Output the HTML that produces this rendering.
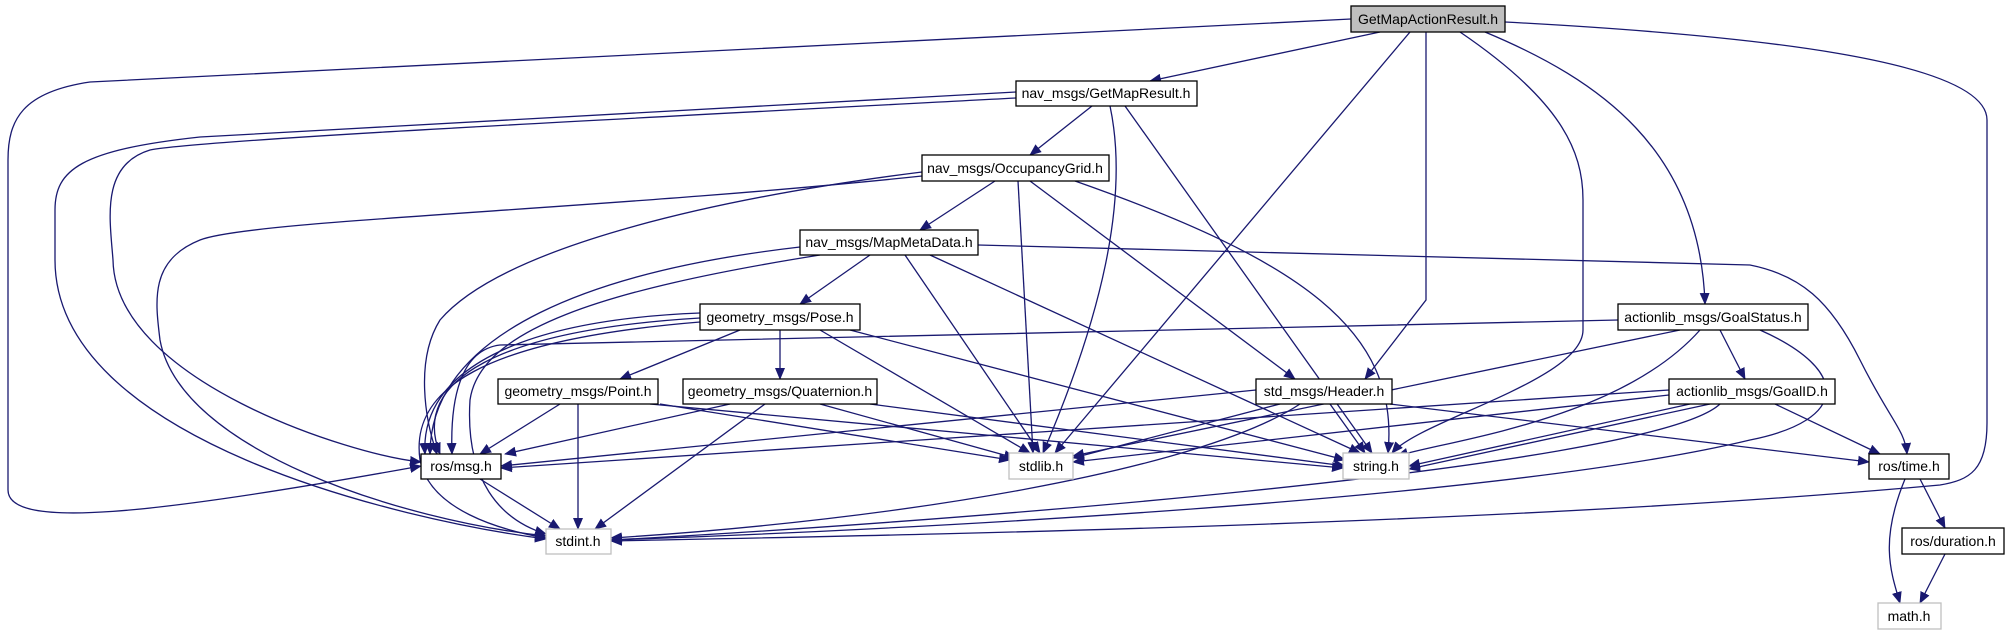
<!DOCTYPE html>
<html><head><meta charset="utf-8"><style>
html,body{margin:0;padding:0;background:#fff;}
svg{display:block;}
text{font-family:"Liberation Sans",Arial,sans-serif;font-size:14px;fill:#000;}
</style></head><body>
<svg width="2009" height="635" viewBox="0 0 2009 635" xmlns="http://www.w3.org/2000/svg">
<defs>
<marker id="a" markerWidth="12" markerHeight="10" refX="11" refY="5" orient="auto" markerUnits="userSpaceOnUse">
<path d="M0,0 L12,5 L0,10 z" fill="#191970"/>
</marker>
</defs>
<g fill="none" stroke="#191970" stroke-width="1.3" marker-end="url(#a)">
<!-- GetMapActionResult -->
<path d="M1351,19 L90,82 C22,92 8,120 8,160 L8,490 C8,530 150,515 421,466"/>
<path d="M1380,32 L1150,81"/>
<path d="M1410,32 L1055,453"/>
<path d="M1426,32 L1426,300 L1365,379"/>
<path d="M1460,32 C1560,100 1583,150 1583,200 L1583,330 C1583,380 1420,420 1392,453"/>
<path d="M1485,32 C1600,80 1700,150 1705,304"/>
<path d="M1505,22 C1750,35 1987,60 1987,120 L1987,423 C1987,470 1970,480 1940,485 C1500,525 900,535 611,541"/>
<!-- GetMapResult -->
<path d="M1092,106 L1030,155"/>
<path d="M1110,106 C1130,200 1100,320 1043,453"/>
<path d="M1125,106 L1372,453"/>
<path d="M1016,98 C600,120 200,140 150,150 C100,165 110,220 113,260 C115,380 350,455 421,462"/>
<path d="M1016,92 L200,137 C80,150 55,170 55,210 L55,260 C55,440 400,520 546,539"/>
<!-- OccupancyGrid -->
<path d="M995,181 L920,230"/>
<path d="M1018,181 L1033,453"/>
<path d="M1030,181 L1295,379"/>
<path d="M1075,181 C1300,260 1400,330 1388,453"/>
<path d="M922,172 C700,200 500,250 440,320 C415,360 425,420 437,454"/>
<path d="M922,176 C600,210 250,220 200,240 C150,260 155,300 160,340 C180,450 400,520 546,536"/>
<!-- MapMetaData -->
<path d="M870,255 L800,304"/>
<path d="M905,255 L1040,453"/>
<path d="M930,255 L1360,453"/>
<path d="M978,245 L1750,265 C1800,275 1830,300 1860,360 C1890,420 1905,430 1907,454"/>
<path d="M800,247 C600,270 430,330 430,454"/>
<path d="M820,255 C600,290 480,330 470,400 C465,480 500,520 546,534"/>
<!-- Pose -->
<path d="M740,330 L620,379"/>
<path d="M780,330 L780,379"/>
<path d="M820,330 L1030,453"/>
<path d="M850,330 L1345,460"/>
<path d="M700,318 C500,330 410,380 440,454"/>
<path d="M700,313 C520,320 420,370 425,454"/>
<path d="M700,322 C480,340 410,390 420,460 C430,510 500,530 546,538"/>
<!-- Point -->
<path d="M560,404 L480,454"/>
<path d="M578,404 L578,529"/>
<path d="M660,404 L1010,460"/>
<path d="M650,404 L1343,468"/>
<!-- Quaternion -->
<path d="M730,404 L505,454"/>
<path d="M765,404 L595,529"/>
<path d="M820,404 L1015,458"/>
<path d="M870,404 L1345,466"/>
<!-- Header -->
<path d="M1256,390 L501,466"/>
<path d="M1280,404 L1073,458"/>
<path d="M1330,404 L1365,453"/>
<path d="M1390,404 L1869,462"/>
<path d="M1300,404 C1200,470 900,520 611,538"/>
<!-- GoalStatus -->
<path d="M1618,320 L500,345 C460,350 450,400 452,454"/>
<path d="M1680,330 L1073,456"/>
<path d="M1700,330 C1620,420 1450,440 1397,456"/>
<path d="M1720,330 L1745,379"/>
<path d="M1760,330 C1850,370 1850,420 1750,440 C1500,500 900,530 611,540"/>
<!-- GoalID -->
<path d="M1669,390 L501,468"/>
<path d="M1669,395 L1073,462"/>
<path d="M1690,404 L1409,466"/>
<path d="M1710,404 L1409,469"/>
<path d="M1775,404 L1880,454"/>
<path d="M1720,404 C1650,470 900,525 611,540"/>
<!-- leaves -->
<path d="M480,479 L560,529"/>
<path d="M1920,479 L1945,528"/>
<path d="M1905,479 C1880,540 1890,570 1900,603"/>
<path d="M1945,554 L1920,603"/>
</g>
<g stroke-width="1.3">
<rect x="1351" y="6" width="154" height="26" fill="#bfbfbf" stroke="#000"/>
<rect x="1016" y="81" width="181" height="25" fill="#fff" stroke="#000"/>
<rect x="922" y="155" width="187" height="26" fill="#fff" stroke="#000"/>
<rect x="800" y="230" width="178" height="25" fill="#fff" stroke="#000"/>
<rect x="700" y="304" width="160" height="26" fill="#fff" stroke="#000"/>
<rect x="1618" y="304" width="190" height="26" fill="#fff" stroke="#000"/>
<rect x="498" y="379" width="160" height="25" fill="#fff" stroke="#000"/>
<rect x="683" y="379" width="194" height="25" fill="#fff" stroke="#000"/>
<rect x="1256" y="379" width="136" height="25" fill="#fff" stroke="#000"/>
<rect x="1669" y="379" width="166" height="25" fill="#fff" stroke="#000"/>
<rect x="421" y="454" width="80" height="25" fill="#fff" stroke="#000"/>
<rect x="1869" y="454" width="80" height="25" fill="#fff" stroke="#000"/>
<rect x="1902" y="528" width="102" height="26" fill="#fff" stroke="#000"/>
<rect x="1009" y="453" width="64" height="26" fill="#fff" stroke="#bfbfbf"/>
<rect x="1343" y="453" width="66" height="26" fill="#fff" stroke="#bfbfbf"/>
<rect x="546" y="529" width="65" height="25" fill="#fff" stroke="#bfbfbf"/>
<rect x="1878" y="603" width="63" height="26" fill="#fff" stroke="#bfbfbf"/>
</g>
<g text-anchor="middle">
<text x="1428" y="24">GetMapActionResult.h</text>
<text x="1106" y="98">nav_msgs/GetMapResult.h</text>
<text x="1015" y="173">nav_msgs/OccupancyGrid.h</text>
<text x="889" y="247">nav_msgs/MapMetaData.h</text>
<text x="780" y="322">geometry_msgs/Pose.h</text>
<text x="1713" y="322">actionlib_msgs/GoalStatus.h</text>
<text x="578" y="396">geometry_msgs/Point.h</text>
<text x="780" y="396">geometry_msgs/Quaternion.h</text>
<text x="1324" y="396">std_msgs/Header.h</text>
<text x="1752" y="396">actionlib_msgs/GoalID.h</text>
<text x="461" y="471">ros/msg.h</text>
<text x="1909" y="471">ros/time.h</text>
<text x="1953" y="546">ros/duration.h</text>
<text x="1041" y="471">stdlib.h</text>
<text x="1376" y="471">string.h</text>
<text x="578" y="546">stdint.h</text>
<text x="1909" y="621">math.h</text>
</g>
</svg>
</body></html>
